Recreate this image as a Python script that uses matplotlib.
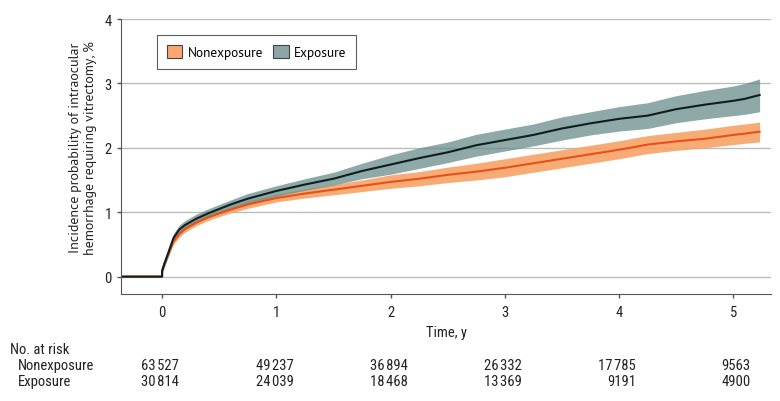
import matplotlib
matplotlib.use('Agg')
import matplotlib.pyplot as plt
import matplotlib.transforms as mtransforms
from matplotlib.patches import Patch

# estimated cumulative incidence (%)
t = [-0.36, 0, 0, 0.02, 0.05, 0.1, 0.15, 0.2, 0.3, 0.4, 0.5, 0.6, 0.75, 1.0,
     1.25, 1.5, 1.75, 2.0, 2.25, 2.5, 2.75, 3.0, 3.25, 3.5, 3.75, 4.0, 4.25,
     4.5, 4.75, 5.0, 5.1, 5.23]

exp_mid = [0, 0, 0.08, 0.2, 0.35, 0.6, 0.73, 0.8, 0.9, 0.98, 1.05, 1.12, 1.21, 1.33,
           1.43, 1.52, 1.64, 1.74, 1.84, 1.93, 2.04, 2.12, 2.2, 2.3, 2.38, 2.45, 2.5,
           2.6, 2.67, 2.73, 2.76, 2.82]
exp_lo = [0, 0, 0.06, 0.15, 0.29, 0.54, 0.66, 0.73, 0.83, 0.91, 0.98, 1.05, 1.13, 1.25,
          1.34, 1.42, 1.52, 1.59, 1.68, 1.77, 1.87, 1.95, 2.03, 2.12, 2.2, 2.26, 2.3,
          2.39, 2.45, 2.5, 2.52, 2.56]
exp_hi = [0, 0, 0.12, 0.25, 0.41, 0.67, 0.8, 0.87, 0.97, 1.05, 1.12, 1.19, 1.29, 1.41,
          1.52, 1.62, 1.76, 1.89, 2.0, 2.09, 2.21, 2.29, 2.37, 2.48, 2.56, 2.64, 2.7,
          2.81, 2.89, 2.96, 3.0, 3.07]

non_mid = [0, 0, 0.1, 0.2, 0.33, 0.55, 0.66, 0.74, 0.84, 0.92, 0.98, 1.04, 1.12, 1.22,
           1.29, 1.35, 1.41, 1.47, 1.52, 1.58, 1.63, 1.69, 1.76, 1.83, 1.9, 1.97, 2.05,
           2.1, 2.14, 2.2, 2.22, 2.25]
non_lo = [0, 0, 0.08, 0.16, 0.29, 0.5, 0.61, 0.69, 0.79, 0.87, 0.93, 0.99, 1.06, 1.16,
          1.22, 1.27, 1.32, 1.37, 1.41, 1.46, 1.5, 1.55, 1.62, 1.69, 1.76, 1.83, 1.91,
          1.96, 2.0, 2.05, 2.07, 2.09]
non_hi = [0, 0, 0.12, 0.24, 0.37, 0.6, 0.71, 0.79, 0.89, 0.97, 1.03, 1.09, 1.18, 1.28,
          1.36, 1.43, 1.5, 1.58, 1.63, 1.7, 1.76, 1.83, 1.9, 1.97, 2.04, 2.11, 2.19,
          2.24, 2.29, 2.35, 2.37, 2.4]

risk_years = [0, 1, 2, 3, 4, 5]
risk_non = ['63\u200a527', '49\u200a237', '36\u200a894', '26\u200a332', '17\u200a785', '9563']
risk_exp = ['30\u200a814', '24\u200a039', '18\u200a468', '13\u200a369', '9191', '4900']

narrow = ['Roboto Condensed', 'DejaVu Sans']
regular = ['PT Sans', 'DejaVu Sans']

fig = plt.figure(figsize=(7.8, 4.02), dpi=100)
ax = fig.add_axes([0.1551, 0.2662, 0.8334, 0.684])

ax.fill_between(t, non_lo, non_hi, color='#F8A366', alpha=0.9, lw=0)
ax.fill_between(t, exp_lo, exp_hi, color='#698C8B', alpha=0.75, lw=0)
ax.plot(t, non_mid, color='#E8501A', lw=1.5)
ax.plot(t, exp_mid, color='#0D1F1F', lw=1.5)

ax.set_xlim(-0.36, 5.33)
ax.set_ylim(-0.27, 4.0)
ax.set_xticks(risk_years)
ax.set_yticks([0, 1, 2, 3, 4])
ax.grid(axis='y', color='#BDBDBD', lw=1)
ax.set_axisbelow(True)
for s in ['top', 'right']:
    ax.spines[s].set_visible(False)
for s in ['left', 'bottom']:
    ax.spines[s].set_color('#555555')
ax.tick_params(axis='both', colors='#555555', length=3, width=1, labelcolor='#222222', labelsize=10.5)
ax.tick_params(axis='x', pad=5)
for lab in ax.get_xticklabels() + ax.get_yticklabels():
    lab.set_family(narrow)

ax.set_xlabel('Time, y', family=narrow, fontsize=10.5, color='#222222', labelpad=4)
ax.set_ylabel('Incidence probability of intraocular\nhemorrhage requiring vitrectomy, %',
              family=regular, fontsize=10, color='#222222', linespacing=1.2)
ax.yaxis.set_label_coords(-0.037, 0.535)

handles = [Patch(facecolor='#F9A870', edgecolor='#444444', lw=0.8, label='Nonexposure'),
           Patch(facecolor='#8CA6A5', edgecolor='#444444', lw=0.8, label='Exposure')]
leg = ax.legend(handles=handles, loc='upper left', bbox_to_anchor=(0.055, 0.942), ncol=2,
                fancybox=False, frameon=True, edgecolor='#333333', borderpad=0.75,
                handlelength=1.15, handleheight=1.15, columnspacing=0.8, handletextpad=0.4,
                borderaxespad=0, prop={'family': regular, 'size': 9.6})
leg.get_frame().set_linewidth(0.8)

# number at risk table
tr = mtransforms.blended_transform_factory(ax.transData, fig.transFigure)
fig.text(0.013, 0.129, 'No. at risk', family=narrow, fontsize=10.5, va='center', color='#222222')
fig.text(0.023, 0.0896, 'Nonexposure', family=narrow, fontsize=10.5, va='center', color='#222222')
fig.text(0.023, 0.0498, 'Exposure', family=narrow, fontsize=10.5, va='center', color='#222222')
for x, a, b in zip(risk_years, risk_non, risk_exp):
    ax.text(x + 0.15, 0.0896, a, transform=tr, ha='right', va='center', family=narrow,
            fontsize=10.5, color='#222222')
    ax.text(x + 0.15, 0.0498, b, transform=tr, ha='right', va='center', family=narrow,
            fontsize=10.5, color='#222222')

fig.savefig('out.png', dpi=100)
